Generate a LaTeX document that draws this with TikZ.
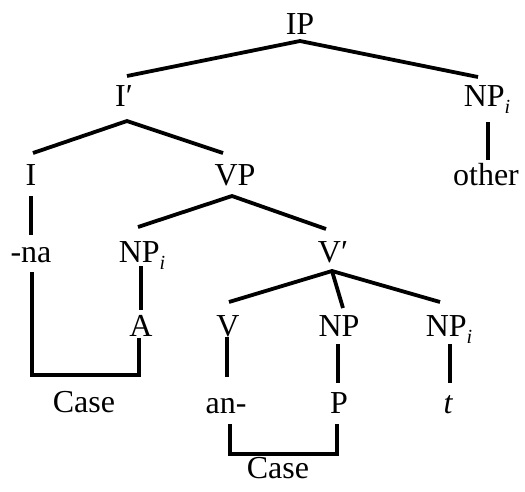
\documentclass[tikz,border=0pt]{standalone}
\usepackage{fontspec}
\setmainfont{Liberation Serif}
\newcommand{\sbi}{\raisebox{-0.22em}{\fontsize{20}{20}\selectfont\itshape i}}
\newcommand{\prm}{\char"2032}
\begin{document}
\begin{tikzpicture}[x=1pt,y=-1pt,
  lbl/.style={anchor=base,inner sep=0pt,font=\fontsize{32}{36}\selectfont},
  br/.style={line width=3.8pt,line join=miter}]
\useasboundingbox (0,0) rectangle (525,491);
% labels
\node[lbl] (IP)  at (300,34) {IP};
\node[lbl] (Ibar) at (124,106) {I\prm};
\node[lbl] (NPa) at (487,106) {NP\sbi};
\node[lbl] (I)   at (31,185) {I};
\node[lbl] (VP)  at (235,185) {VP};
\node[lbl] (oth) at (486,185) {other};
\node[lbl] (na)  at (31,262) {-na};
\node[lbl] (NPb) at (142,262) {NP\sbi};
\node[lbl] (Vbar) at (333,262) {V\prm};
\node[lbl] (A)   at (141,336) {A};
\node[lbl] (V)   at (228,336) {V};
\node[lbl] (NP)  at (339,336) {NP};
\node[lbl] (NPc) at (449,336) {NP\sbi};
\node[lbl] (an)  at (226,413) {an-};
\node[lbl] (P)   at (339,413) {P};
\node[lbl] (t)   at (448,413) {\itshape t};
\node[lbl] (CaseA) at (84,412) {Case};
\node[lbl] (CaseB) at (278,478) {Case};
% branch points
\coordinate (IPb) at (300,41);
\coordinate (Ibart) at (127,76);
\coordinate (NPat) at (478,77);
\coordinate (Ibarb) at (127,121);
\coordinate (It) at (33,153);
\coordinate (VPt) at (223,153);
\coordinate (NPab) at (488,122);
\coordinate (otht) at (488,160);
\coordinate (Ib) at (31,196);
\coordinate (nat) at (31,235);
\coordinate (VPb) at (232,196);
\coordinate (NPbt) at (138,227);
\coordinate (Vbart) at (326,229);
\coordinate (NPbb) at (141,266);
\coordinate (At) at (141,310);
\coordinate (Vbarb) at (332,271);
\coordinate (Vt) at (229,302);
\coordinate (NPt) at (343,308);
\coordinate (NPct) at (440,302);
\coordinate (Vb) at (227,337);
\coordinate (ant) at (227,377);
\coordinate (NPbot) at (338,344);
\coordinate (Pt) at (338,383);
\coordinate (NPcb) at (450,344);
\coordinate (tt) at (450,383);
\coordinate (naB) at (32,272);
\coordinate (AB) at (139,338);
\coordinate (anB) at (230,424);
\coordinate (PB) at (337,424);
% tree lines
\draw[br] (Ibart) -- (IPb) -- (NPat);
\draw[br] (It) -- (Ibarb) -- (VPt);
\draw[br] (NPab) -- (otht);
\draw[br] (Ib) -- (nat);
\draw[br] (NPbt) -- (VPb) -- (Vbart);
\draw[br] (NPbb) -- (At);
\draw[br] (Vt) -- (Vbarb) -- (NPct);
\draw[br] (Vbarb) -- (NPt);
\draw[br] (Vb) -- (ant);
\draw[br] (NPbot) -- (Pt);
\draw[br] (NPcb) -- (tt);
% case brackets
\draw[br] (naB) -- (naB |- 0,375) -- (AB |- 0,375) -- (AB);
\draw[br] (anB) -- (anB |- 0,454) -- (PB |- 0,454) -- (PB);
\end{tikzpicture}
\end{document}
